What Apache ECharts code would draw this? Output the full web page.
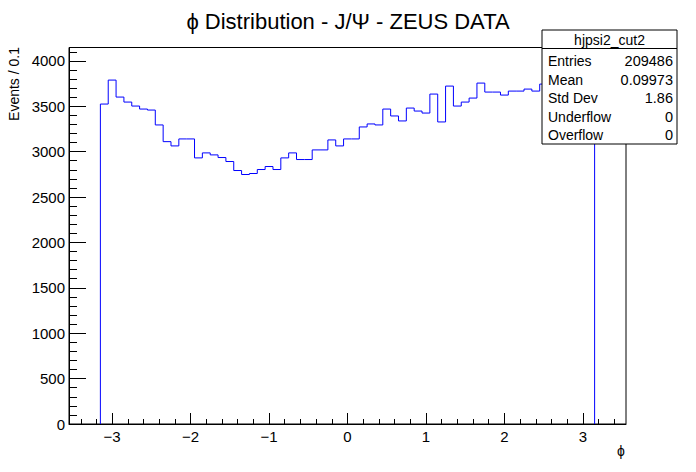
<!DOCTYPE html>
<html>
<head>
<meta charset="utf-8">
<script src="https://cdn.jsdelivr.net/npm/echarts@6/dist/echarts.min.js"></script>
<style>
  html, body { margin: 0; padding: 0; background: #fff; }
  #chart { width: 696px; height: 472px; }
</style>
</head>
<body>
<div id="chart"></div>
<script>
// histogramme phi, bins de 0.1 a partir de -3.15
const binLow = -3.15;
const binWidth = 0.1;
const counts = [
    3524, 3788, 3601, 3546, 3502, 3469, 3458, 3294, 3110, 3063,
    3140, 3140, 2931, 2986, 2964, 2935, 2891, 2792, 2748, 2759,
    2803, 2836, 2803, 2931, 2986, 2913, 2913, 3019, 3019, 3129,
    3063, 3140, 3140, 3272, 3305, 3294, 3469, 3393, 3338, 3480,
    3447, 3425, 3634, 3327, 3722, 3502, 3546, 3590, 3755, 3656,
    3656, 3623, 3667, 3667, 3689, 3667, 3744, 3760, 3790, 3770,
    3800, 3710, 3452
];

const xMajorTicks = [-3, -2, -1, 0, 1, 2, 3];
const xMinorTicks = [-3.4, -3.2, -3.0, -2.8, -2.6, -2.4, -2.2, -2.0, -1.8, -1.6, -1.4, -1.2,
    -1.0, -0.8, -0.6, -0.4, -0.2, 0, 0.2, 0.4, 0.6, 0.8, 1.0, 1.2, 1.4, 1.6, 1.8, 2.0,
    2.2, 2.4, 2.6, 2.8, 3.0, 3.2, 3.4];
const yMinorTicks = [100, 200, 300, 400, 500, 600, 700, 800, 900, 1000, 1100, 1200, 1300, 1400,
    1500, 1600, 1700, 1800, 1900, 2000, 2100, 2200, 2300, 2400, 2500, 2600, 2700, 2800,
    2900, 3000, 3100, 3200, 3300, 3400, 3500, 3600, 3700, 3800, 3900, 4000, 4100];

const statTitle = 'hjpsi2_cut2';
const statNames = ['Entries', 'Mean', 'Std Dev', 'Underflow', 'Overflow'];
const statValues = ['209486', '0.09973', '1.86', '0', '0'];

const FONT = '"Liberation Sans", Arial, Helvetica, sans-serif';

// contour du histogramme en marches
let pts = [[binLow, 0]];
counts.forEach(function (c, i) {
    pts.push([binLow + i * binWidth, c]);
});
let xEnd = binLow + counts.length * binWidth;
pts.push([xEnd, counts[counts.length - 1]]);
pts.push([xEnd, 0]);

let myChart = echarts.init(document.getElementById('chart'), null, { renderer: 'svg' });

// boite de stats
let graphics = [{
    type: 'rect',
    shape: { x: 542, y: 30, width: 135, height: 114 },
    style: { fill: '#fff', stroke: '#000', lineWidth: 1 },
    z: 100
}, {
    type: 'line',
    shape: { x1: 542, y1: 48.5, x2: 677, y2: 48.5 },
    style: { stroke: '#000', lineWidth: 1 },
    z: 101
}, {
    type: 'text',
    x: 609.5, y: 40,
    style: { text: statTitle, font: '14px ' + FONT, fill: '#000', align: 'center', verticalAlign: 'middle' },
    z: 101
}];
statNames.forEach(function (name, i) {
    let y = 61 + i * 18.6;
    graphics.push({
        type: 'text', x: 548, y: y,
        style: { text: name, font: '14px ' + FONT, fill: '#000', align: 'left', verticalAlign: 'middle' },
        z: 101
    });
    graphics.push({
        type: 'text', x: 673, y: y,
        style: { text: statValues[i], font: '14.5px ' + FONT, fill: '#000', align: 'right', verticalAlign: 'middle' },
        z: 101
    });
});
// titres des axes
graphics.push({
    type: 'text', x: 14, y: 47, rotation: Math.PI / 2,
    style: { text: 'Events / 0.1', font: '14px ' + FONT, fill: '#000', align: 'right', verticalAlign: 'middle' },
    z: 50
});
graphics.push({
    type: 'text', x: 621, y: 451,
    style: { text: 'ϕ', font: '14px ' + FONT, fill: '#000', align: 'center', verticalAlign: 'middle' },
    z: 50
});

myChart.setOption({
    animation: false,
    title: {
        text: 'ϕ Distribution - J/Ψ - ZEUS DATA',
        left: 'center',
        top: 5,
        textStyle: { fontFamily: FONT, fontSize: 22, fontWeight: 'normal', color: '#000' }
    },
    grid: {
        left: 69, right: 70, top: 47.5, bottom: 48,
        show: true, borderColor: '#000', borderWidth: 1, backgroundColor: 'transparent'
    },
    xAxis: [{
        type: 'value',
        min: -3.55, max: 3.55,
        position: 'bottom',
        axisLine: { show: true, onZero: false, lineStyle: { color: '#000', width: 1 } },
        axisTick: { show: true, inside: true, length: 11, customValues: xMajorTicks, lineStyle: { color: '#000' } },
        axisLabel: {
            show: true, customValues: xMajorTicks, margin: 5,
            fontFamily: FONT, fontSize: 15, color: '#000',
            formatter: function (v) { return String(v).replace('-', '\u2212'); }
        },
        splitLine: { show: false }
    }, {
        type: 'value',
        min: -3.55, max: 3.55,
        position: 'bottom',
        axisLine: { show: false, onZero: false },
        axisTick: { show: true, inside: true, length: 5, customValues: xMinorTicks, lineStyle: { color: '#000' } },
        axisLabel: { show: false },
        splitLine: { show: false }
    }],
    yAxis: [{
        type: 'value',
        min: 0, max: 4147, interval: 500,
        position: 'left',
        axisLine: { show: true, onZero: false, lineStyle: { color: '#000', width: 1 } },
        axisTick: { show: true, inside: true, length: 17, lineStyle: { color: '#000' } },
        axisLabel: {
            show: true, margin: 4, fontFamily: FONT, fontSize: 15, color: '#000',
            showMaxLabel: false,
            formatter: function (v) { return String(v); }
        },
        splitLine: { show: false }
    }, {
        type: 'value',
        min: 0, max: 4147,
        position: 'left',
        axisLine: { show: false, onZero: false },
        axisTick: { show: true, inside: true, length: 8, customValues: yMinorTicks, lineStyle: { color: '#000' } },
        axisLabel: { show: false },
        splitLine: { show: false }
    }],
    series: [{
        name: statTitle,
        type: 'line',
        xAxisIndex: 0,
        yAxisIndex: 0,
        step: 'end',
        symbol: 'none',
        lineStyle: { color: '#0000ff', width: 1 },
        data: pts
    }],
    graphic: graphics
});
</script>
</body>
</html>
